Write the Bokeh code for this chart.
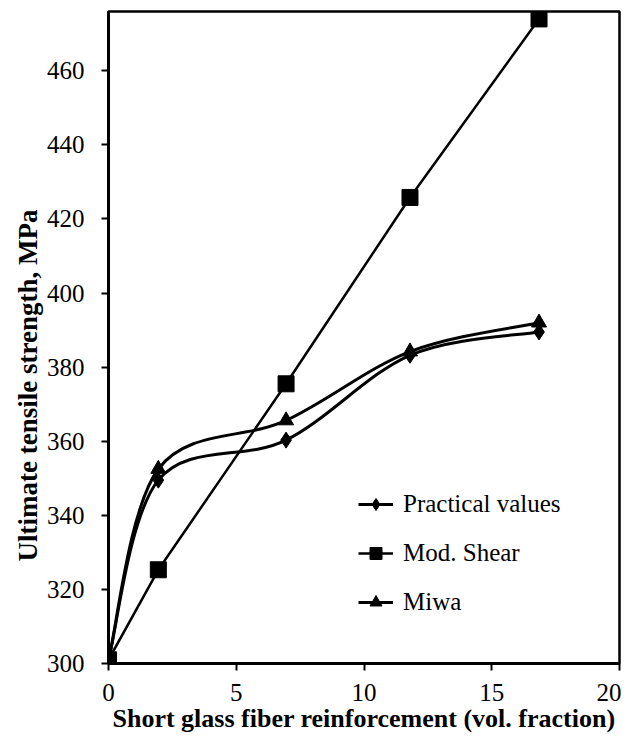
import numpy as np
from bokeh.plotting import figure
from bokeh.models import Range1d, Legend, LegendItem, Title, FixedTicker
from bokeh.embed import file_html
from bokeh.resources import INLINE

# ---- data ----
fiber = [0, 1.95, 6.95, 11.8, 16.85]
practical = [301, 349.5, 360.3, 383.2, 389.5]
mod_shear = [301, 325.3, 375.5, 425.8, 474.0]
miwa = [301, 352.5, 365.6, 384.2, 392.0]

x_ticks = [0, 5, 10, 15, 20]
y_ticks = [300, 320, 340, 360, 380, 400, 420, 440, 460]

SERIF = "Liberation Serif"
SERIF_REG = "Times"

p = figure(width=621, height=735, output_backend="svg", toolbar_location=None,
           x_range=Range1d(0, 20), y_range=Range1d(300, 476),
           min_border_left=108, min_border_right=2, min_border_top=11, min_border_bottom=10)
p.grid.visible = False
p.outline_line_color = "black"
p.outline_line_width = 2.5

for ax in (p.xaxis[0], p.yaxis[0]):
    ax.axis_line_width = 3
    ax.axis_line_color = "black"
    ax.major_tick_line_width = 2
    ax.major_tick_out = 7
    ax.major_tick_in = 0
    ax.minor_tick_line_color = None
    ax.major_label_text_font = SERIF_REG
    ax.major_label_text_font_style = "normal"
    ax.major_label_text_font_size = "25px"
    ax.major_label_text_color = "black"

p.xaxis.ticker = FixedTicker(ticks=x_ticks)
p.yaxis.ticker = FixedTicker(ticks=y_ticks)
p.xaxis.major_label_standoff = 13
p.yaxis.major_label_standoff = 17
p.xaxis.axis_label = "Short glass fiber reinforcement (vol. fraction)"
p.xaxis.axis_label_text_font = SERIF
p.xaxis.axis_label_text_font_style = "bold"
p.xaxis.axis_label_text_font_size = "26px"
p.xaxis.axis_label_text_color = "black"
p.xaxis.axis_label_standoff = 0


def smooth_segments(xs, ys, t=1.0 / 6.0):
    xs = np.asarray(xs, float)
    ys = np.asarray(ys, float)
    n = len(xs)
    px = np.concatenate([[xs[0]], xs, [xs[-1]]])
    py = np.concatenate([[ys[0]], ys, [ys[-1]]])
    x0 = xs[:-1]; y0 = ys[:-1]; x1 = xs[1:]; y1 = ys[1:]
    cx0 = x0 + (px[2:n + 1] - px[0:n - 1]) * t
    cy0 = y0 + (py[2:n + 1] - py[0:n - 1]) * t
    cx1 = x1 - (px[3:n + 2] - px[1:n]) * t
    cy1 = y1 - (py[3:n + 2] - py[1:n]) * t
    return dict(x0=x0, y0=y0, x1=x1, y1=y1, cx0=cx0, cy0=cy0, cx1=cx1, cy1=cy1)


items = []

# Practical values (smoothed line, diamonds)
p.bezier(source=smooth_segments(fiber, practical), x0="x0", y0="y0", x1="x1", y1="y1",
         cx0="cx0", cy0="cy0", cx1="cx1", cy1="cy1", line_color="black", line_width=3)
lg1 = p.line(x=fiber[:1], y=practical[:1], line_color="black", line_width=3)
m1 = p.scatter(fiber, practical, marker="diamond", size=16, fill_color="black", line_color="black")
items.append(LegendItem(label="Practical values", renderers=[lg1, m1]))

# Mod. Shear (straight line, squares)
l2 = p.line(fiber, mod_shear, line_color="black", line_width=2.5)
m2 = p.scatter(fiber, mod_shear, marker="square", size=16, fill_color="black", line_color="black")
items.append(LegendItem(label="Mod. Shear", renderers=[l2, m2]))

# Miwa (smoothed line, triangles)
p.bezier(source=smooth_segments(fiber, miwa), x0="x0", y0="y0", x1="x1", y1="y1",
         cx0="cx0", cy0="cy0", cx1="cx1", cy1="cy1", line_color="black", line_width=3)
lg3 = p.line(x=fiber[:1], y=miwa[:1], line_color="black", line_width=3)
m3 = p.scatter(fiber, miwa, marker="triangle", size=15, fill_color="black", line_color="black")
items.append(LegendItem(label="Miwa", renderers=[lg3, m3]))

legend = Legend(items=items, location=(250, 46), border_line_color=None,
                background_fill_alpha=0, padding=0, margin=0, spacing=19,
                label_text_font=SERIF_REG, label_text_font_size="25px",
                label_text_font_style="normal",
                label_text_color="black", glyph_width=35, glyph_height=30,
                label_height=30, label_standoff=10)
p.add_layout(legend)

ytitle = Title(text="Ultimate tensile strength, MPa", align="left", offset=102,
               text_font=SERIF, text_font_style="bold", text_font_size="27px",
               text_color="black", standoff=2)
p.add_layout(ytitle, "left")

open("out.html", "w").write(file_html(p, INLINE))
